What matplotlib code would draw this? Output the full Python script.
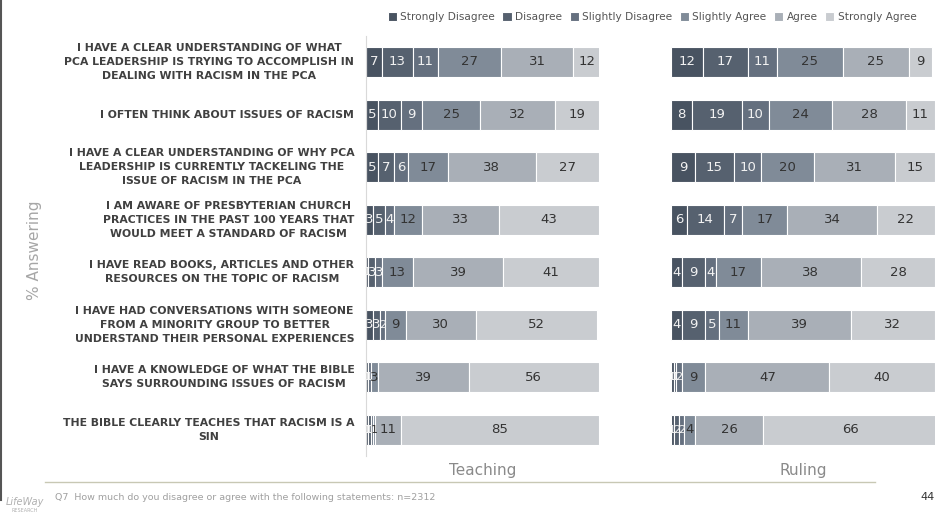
import matplotlib
matplotlib.use('Agg')
import matplotlib.pyplot as plt
import numpy as np

plt.rcParams['font.family'] = ['DejaVu Sans']

OUTPUT_FILE = "out.png"

statements = [
    "I HAVE A CLEAR UNDERSTANDING OF WHAT\nPCA LEADERSHIP IS TRYING TO ACCOMPLISH IN\nDEALING WITH RACISM IN THE PCA",
    "I OFTEN THINK ABOUT ISSUES OF RACISM",
    "I HAVE A CLEAR UNDERSTANDING OF WHY PCA\nLEADERSHIP IS CURRENTLY TACKELING THE\nISSUE OF RACISM IN THE PCA",
    "I AM AWARE OF PRESBYTERIAN CHURCH\nPRACTICES IN THE PAST 100 YEARS THAT\nWOULD MEET A STANDARD OF RACISM",
    "I HAVE READ BOOKS, ARTICLES AND OTHER\nRESOURCES ON THE TOPIC OF RACISM",
    "I HAVE HAD CONVERSATIONS WITH SOMEONE\nFROM A MINORITY GROUP TO BETTER\nUNDERSTAND THEIR PERSONAL EXPERIENCES",
    "I HAVE A KNOWLEDGE OF WHAT THE BIBLE\nSAYS SURROUNDING ISSUES OF RACISM",
    "THE BIBLE CLEARLY TEACHES THAT RACISM IS A\nSIN",
]

responses = ["Strongly Disagree", "Disagree", "Slightly Disagree",
             "Slightly Agree", "Agree", "Strongly Agree"]

# 各行: Strongly Disagree ... Strongly Agree
teaching = [
    [7, 13, 11, 27, 31, 12],
    [5, 10, 9, 25, 32, 19],
    [5, 7, 6, 17, 38, 27],
    [3, 5, 4, 12, 33, 43],
    [1, 3, 3, 13, 39, 41],
    [3, 3, 2, 9, 30, 52],
    [1, 0, 1, 3, 39, 56],
    [1, 1, 1, 1, 11, 85],
]

ruling = [
    [12, 17, 11, 25, 25, 9],
    [8, 19, 10, 24, 28, 11],
    [9, 15, 10, 20, 31, 15],
    [6, 14, 7, 17, 34, 22],
    [4, 9, 4, 17, 38, 28],
    [4, 9, 5, 11, 39, 32],
    [1, 1, 2, 9, 47, 40],
    [1, 2, 2, 4, 26, 66],
]

colors = ["#485361", "#56616f", "#65707f", "#808b98", "#a9afb7", "#c9ccd0"]
text_colors = ["#f2f2f2", "#f2f2f2", "#f2f2f2", "#333333", "#333333", "#333333"]


def draw_panel(ax, data, title):
    data = np.array(data)
    y = np.arange(len(data))
    left = np.zeros(len(data))
    for j in range(data.shape[1]):
        vals = data[:, j]
        ax.barh(y, vals, left=left, height=0.57, color=colors[j],
                edgecolor="white", linewidth=0.8, label=responses[j])
        for i, v in enumerate(vals):
            if v > 0:
                # 細いセグメントは文字を小さめに
                fs = 9.5 if v >= 3 else 8
                ax.text(left[i] + v / 2, y[i], str(v), ha="center", va="center",
                        fontsize=fs, color=text_colors[j])
        left += vals
    ax.set_ylim(len(data) - 0.5, -0.5)
    ax.set_xlim(0, 100)
    ax.set_xticks([])
    ax.set_yticks([])
    for s in ax.spines.values():
        s.set_visible(False)
    ax.text(0.5, -0.015, title, transform=ax.transAxes, ha="center", va="top",
            fontsize=11, color="#8a8a8a")


fig = plt.figure(figsize=(9.5, 5.25), dpi=100)
ax1 = fig.add_axes([366 / 950, 0.131, 233 / 950, 0.801])
ax2 = fig.add_axes([671 / 950, 0.131, 264 / 950, 0.801])

draw_panel(ax1, teaching, "Teaching")
draw_panel(ax2, ruling, "Ruling")
ax1.spines["left"].set_visible(True)
ax1.spines["left"].set_color("#d9d9d9")

# 設問ラベル
for i, s in enumerate(statements):
    ax1.text(-0.05, i, s, transform=ax1.get_yaxis_transform(), ha="right",
             va="center", multialignment="center", fontsize=7.8,
             fontweight="bold", color="#404040", linespacing=1.5)

fig.text(35 / 950, 1 - 250 / 525, "% Answering", rotation=90, ha="center",
         va="center", fontsize=11, color="#a6a6a6")

# 凡例
handles, labels = ax1.get_legend_handles_labels()
fig.legend(handles, labels, loc="center", bbox_to_anchor=(652 / 950, 1 - 17 / 525),
           ncol=6, frameon=False, fontsize=7.6, handlelength=0.9,
           handleheight=0.9, handletextpad=0.3, columnspacing=0.7,
           labelcolor="#555555")

# フッター
fig.add_artist(plt.Line2D([45 / 950, 875 / 950], [1 - 482 / 525] * 2,
                          color="#c8c8b4", linewidth=1, transform=fig.transFigure))
fig.add_artist(plt.Line2D([0.001, 0.001], [1 - 500 / 525, 1],
                          color="#555555", linewidth=1.5, transform=fig.transFigure))
fig.text(55 / 950, 1 - 497 / 525, "Q7  How much do you disagree or agree with the following statements: n=2312",
         fontsize=6.8, color="#a0a0a0", va="center")
fig.text(935 / 950, 1 - 497 / 525, "44", fontsize=8, color="#333333",
         ha="right", va="center")
fig.text(25 / 950, 1 - 502 / 525, "LifeWay", fontsize=7, color="#b0b0b0",
         ha="center", va="center", fontstyle="italic")
fig.text(25 / 950, 1 - 511 / 525, "RESEARCH", fontsize=3.5, color="#b0b0b0",
         ha="center", va="center")

plt.savefig(OUTPUT_FILE, dpi=100)
